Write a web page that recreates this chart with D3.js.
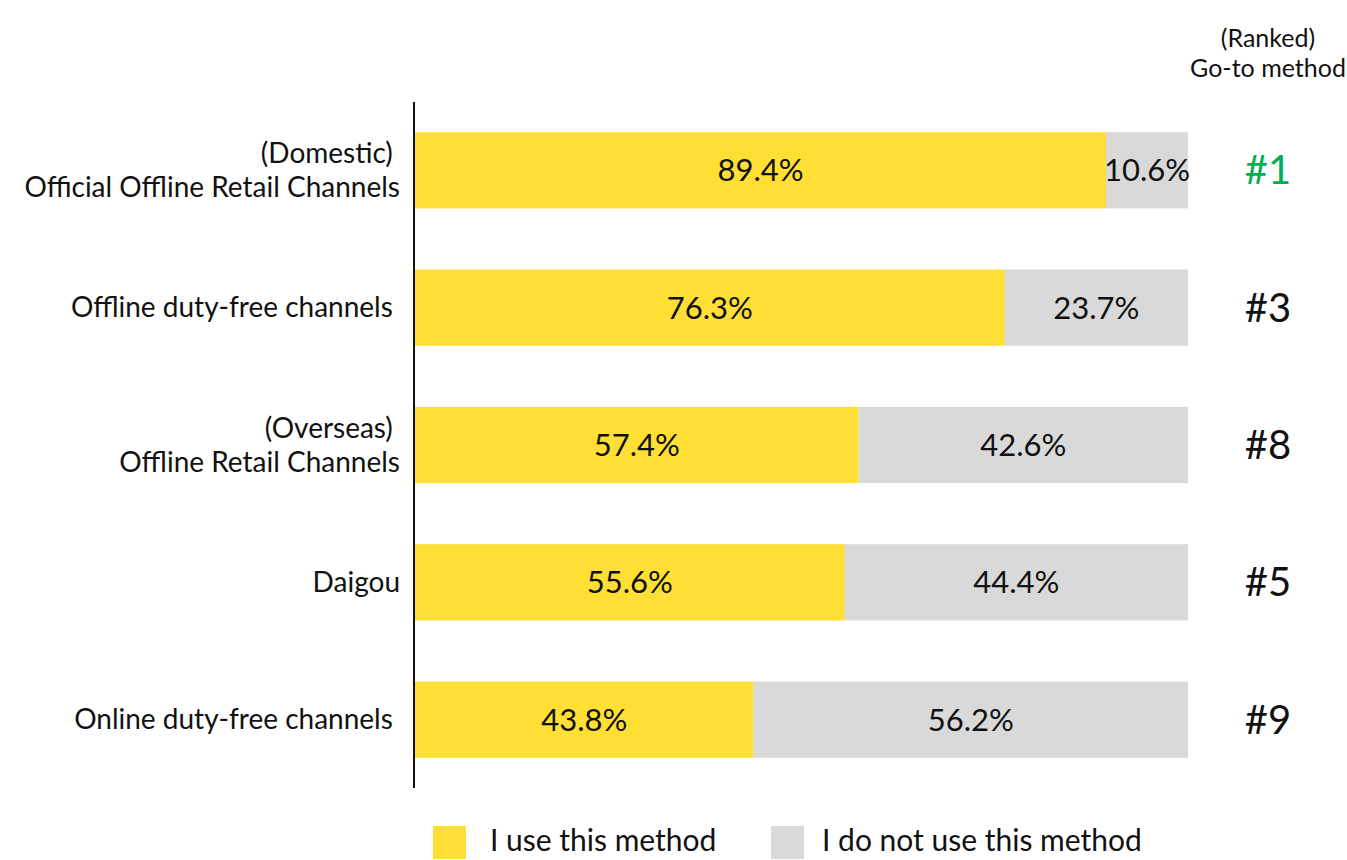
<!DOCTYPE html>
<html>
<head>
<meta charset="utf-8">
<script src="https://cdn.jsdelivr.net/npm/d3@7"></script>
<style>
    body { margin: 0; background: #fff; }
    text { font-family: Lato, "Open Sans", sans-serif; fill: #111; }
</style>
</head>
<body>
<div id="chart"></div>
<script>
// chart data
const categories = [
    ["(Domestic) ", "Official Offline Retail Channels"],
    ["Offline duty-free channels "],
    ["(Overseas) ", "Offline Retail Channels"],
    ["Daigou"],
    ["Online duty-free channels "]
];
const useValues = [89.4, 76.3, 57.4, 55.6, 43.8];
const notUseValues = [10.6, 23.7, 42.6, 44.4, 56.2];
const ranks = ["#1", "#3", "#8", "#5", "#9"];
const seriesNames = ["I use this method", "I do not use this method"];
const colors = ["#FFDF33", "#D9D9D9"];

const width = 1347, height = 860;
const plot = { left: 415, right: 1188, top: 102, bottom: 788 };
const lineGap = 34;

const svg = d3.select("#chart").append("svg")
    .attr("width", width).attr("height", height);

const x = d3.scaleLinear().domain([0, 100]).range([plot.left, plot.right]);
const y = d3.scaleBand()
    .domain(d3.range(categories.length))
    .range([plot.top, plot.bottom])
    .paddingInner(0.445).paddingOuter(0.22);

const rows = categories.map((c, i) => ({
    i, label: c, use: useValues[i], notUse: notUseValues[i], rank: ranks[i]
}));

// bars
const row = svg.selectAll("g.row").data(rows).enter()
    .append("g").attr("class", "row");

row.append("rect")
    .attr("x", x(0))
    .attr("y", d => y(d.i))
    .attr("width", d => x(d.use) - x(0))
    .attr("height", y.bandwidth())
    .attr("fill", colors[0]);

row.append("rect")
    .attr("x", d => x(d.use))
    .attr("y", d => y(d.i))
    .attr("width", d => x(d.use + d.notUse) - x(d.use))
    .attr("height", y.bandwidth())
    .attr("fill", colors[1]);

// value labels
row.append("text")
    .attr("x", d => (x(0) + x(d.use)) / 2)
    .attr("y", d => y(d.i) + y.bandwidth() / 2)
    .attr("dy", "0.35em")
    .attr("text-anchor", "middle")
    .style("font-size", "31px")
    .text(d => d.use.toFixed(1) + "%");

row.append("text")
    .attr("x", d => (x(d.use) + x(100)) / 2)
    .attr("y", d => y(d.i) + y.bandwidth() / 2)
    .attr("dy", "0.35em")
    .attr("text-anchor", "middle")
    .style("font-size", "31px")
    .text(d => d.notUse.toFixed(1) + "%");

// category labels, one text per line
row.each(function (d) {
    const n = d.label.length;
    const mid = y(d.i) + y.bandwidth() / 2;
    d.label.forEach((line, k) => {
        d3.select(this).append("text")
            .attr("x", plot.left - 15)
            .attr("y", mid + (k - (n - 1) / 2) * lineGap)
            .attr("dy", "0.35em")
            .attr("text-anchor", "end")
            .style("font-size", "28px")
            .style("white-space", "pre")
            .text(line);
    });
});

// ranks
row.append("text")
    .attr("x", 1268)
    .attr("y", d => y(d.i) + y.bandwidth() / 2)
    .attr("dy", "0.35em")
    .attr("text-anchor", "middle")
    .style("font-size", "40px")
    .style("fill", d => d.rank === "#1" ? "#00B050" : "#111")
    .text(d => d.rank);

// header
svg.selectAll("text.header")
    .data(["(Ranked)", "Go-to method"]).enter()
    .append("text").attr("class", "header")
    .attr("x", 1268)
    .attr("y", (d, i) => 47 + i * 30)
    .attr("text-anchor", "middle")
    .style("font-size", "25px")
    .text(d => d);

// axis line
svg.append("line")
    .attr("x1", 414).attr("x2", 414)
    .attr("y1", plot.top).attr("y2", plot.bottom)
    .attr("stroke", "#111").attr("stroke-width", 2);

// legend
const legendX = [433, 771];
const legend = svg.selectAll("g.legend").data(seriesNames).enter()
    .append("g").attr("class", "legend")
    .attr("transform", (d, i) => "translate(" + legendX[i] + ",826)");

legend.append("rect")
    .attr("width", 33).attr("height", 33)
    .attr("fill", (d, i) => colors[i]);

legend.append("text")
    .attr("x", (d, i) => i === 0 ? 57 : 51)
    .attr("y", 25)
    .style("font-size", "30px")
    .text(d => d);
</script>
</body>
</html>
